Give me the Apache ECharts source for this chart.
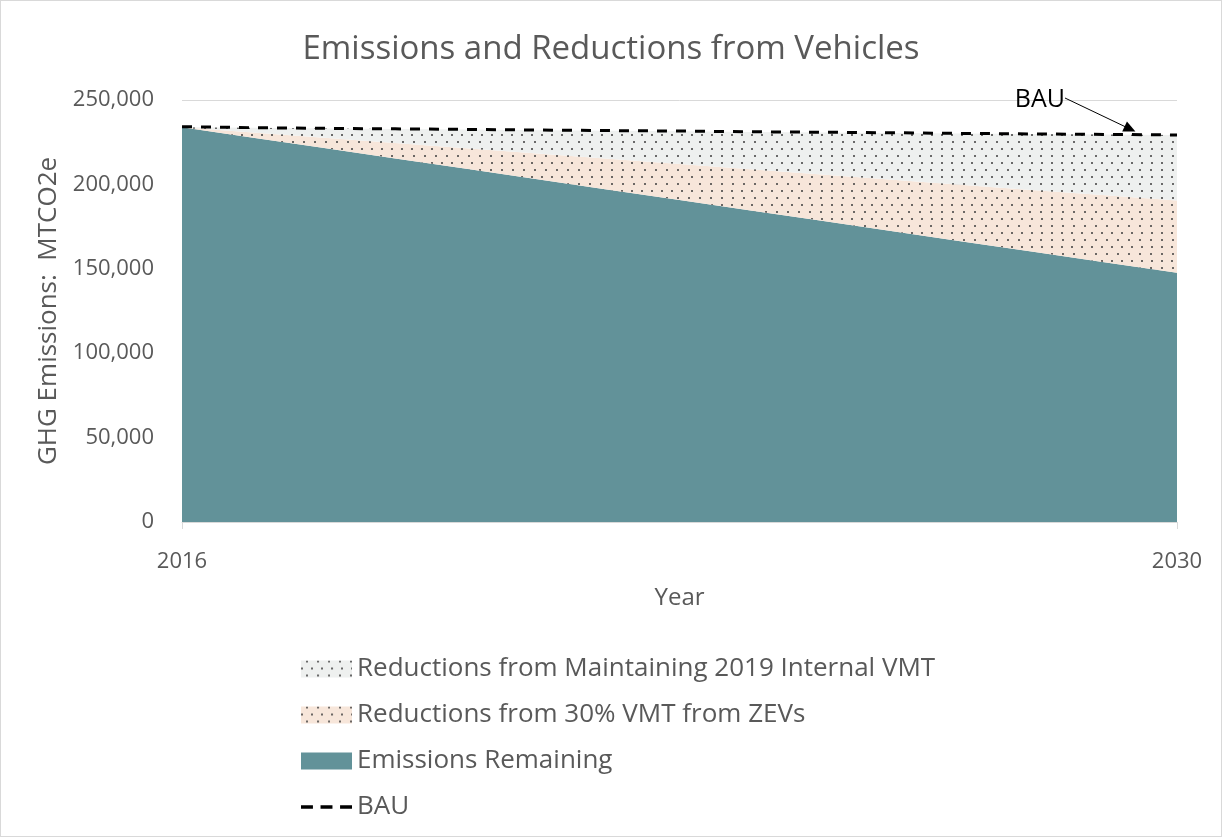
<!DOCTYPE html>
<html lang="en">
<head>
    <meta charset="UTF-8">
    <title>Emissions and Reductions from Vehicles</title>
    <script src="https://cdn.jsdelivr.net/npm/echarts@6/dist/echarts.min.js"></script>
    <style>
        html, body { margin: 0; padding: 0; background: #fff; }
        #main { width: 1220px; height: 835px; border: 1px solid #d9d9d9; }
    </style>
</head>
<body>
    <div id="main"></div>
    <script type="text/javascript">
        // values
        var years = ['2016', '2017', '2018', '2019', '2020', '2021', '2022', '2023', '2024', '2025', '2026', '2027', '2028', '2029', '2030'];
        var remaining = [233800, 227600, 221500, 215300, 209200, 203000, 196800, 190700, 184500, 178400, 172200, 166000, 159900, 153700, 147600];
        var zevCut = [0, 3100, 6100, 9200, 12200, 15300, 18400, 21400, 24500, 27500, 30600, 33700, 36700, 39800, 42800];
        var vmtCut = [0, 2800, 5500, 8300, 11100, 13800, 16600, 19400, 22100, 24900, 27700, 30400, 33200, 36000, 38800];
        var bau = [234200, 233600, 233200, 232900, 232600, 232200, 231900, 231600, 231200, 230900, 230600, 230200, 229900, 229600, 229300];
        var yTicks = [0, 50000, 100000, 150000, 200000, 250000];

        var txt = '#595959';
        var font = 'Open Sans';
        var lastIdx = years.length - 1;
        function endsOnly(i) { return i === 0 || i === lastIdx; }

        var dots = {
            symbol: 'rect',
            symbolSize: 1,
            color: 'rgba(60,60,60,0.75)',
            dashArrayX: [[1.2, 7.8], [0, 4.5, 1.2, 3.3]],
            dashArrayY: [1.2, 4.8]
        };

        var chart = echarts.init(document.getElementById('main'));
        var option = {
            backgroundColor: '#fff',
            animation: false,
            textStyle: { fontFamily: font },
            title: {
                text: 'Emissions and Reductions from Vehicles',
                left: 'center',
                top: 27,
                textStyle: { color: txt, fontSize: 33, fontWeight: 'normal', fontFamily: font }
            },
            legend: {
                orient: 'vertical',
                left: 295,
                top: 650,
                itemWidth: 51,
                itemHeight: 17,
                itemGap: 20,
                textStyle: { color: txt, fontSize: 26, fontFamily: font },
                data: [
                    { name: 'Reductions from Maintaining 2019 Internal VMT', icon: 'rect' },
                    { name: 'Reductions from 30% VMT from ZEVs', icon: 'rect' },
                    { name: 'Emissions Remaining', icon: 'rect' },
                    {
                        name: 'BAU',
                        icon: 'path://M0,0h11v3h-11z M18,0h11v3h-11z M36,0h11v3h-11z',
                        itemStyle: { color: '#000', borderWidth: 0 }
                    }
                ]
            },
            grid: { left: 181, right: 44, top: 99, bottom: 314 },
            xAxis: {
                type: 'category',
                boundaryGap: false,
                data: years,
                name: 'Year',
                nameLocation: 'middle',
                nameGap: 64,
                nameTextStyle: { color: txt, fontSize: 24 },
                axisLine: { lineStyle: { color: '#d9d9d9' } },
                axisTick: { show: true, length: 7, interval: endsOnly, lineStyle: { color: '#d9d9d9' } },
                axisLabel: { color: txt, fontSize: 22, margin: 29, interval: endsOnly },
                splitLine: { show: false }
            },
            yAxis: {
                type: 'value',
                min: yTicks[0],
                max: yTicks[yTicks.length - 1],
                interval: 50000,
                name: 'GHG Emissions:  MTCO2e',
                nameLocation: 'middle',
                nameGap: 110,
                nameTextStyle: { color: txt, fontSize: 26 },
                axisLine: { show: false },
                axisTick: { show: false },
                axisLabel: { color: txt, fontSize: 22, margin: 28, formatter: function (v) { return v.toLocaleString('en-US'); } },
                splitLine: { lineStyle: { color: '#d9d9d9' } }
            },
            series: [
                {
                    name: 'Emissions Remaining',
                    type: 'line',
                    stack: 'total',
                    symbol: 'none',
                    lineStyle: { width: 0 },
                    itemStyle: { color: '#629299' },
                    areaStyle: { color: '#629299', opacity: 1 },
                    data: remaining
                },
                {
                    name: 'Reductions from 30% VMT from ZEVs',
                    type: 'line',
                    stack: 'total',
                    symbol: 'none',
                    lineStyle: { width: 0 },
                    itemStyle: { color: '#f7e6da', decal: dots },
                    areaStyle: { color: '#f7e6da', opacity: 1 },
                    data: zevCut
                },
                {
                    name: 'Reductions from Maintaining 2019 Internal VMT',
                    type: 'line',
                    stack: 'total',
                    symbol: 'none',
                    lineStyle: { width: 0 },
                    itemStyle: { color: '#eef0ef', decal: dots },
                    areaStyle: { color: '#eef0ef', opacity: 1 },
                    data: vmtCut
                },
                {
                    name: 'BAU',
                    type: 'line',
                    symbol: 'none',
                    z: 5,
                    itemStyle: { color: '#000' },
                    lineStyle: { color: '#000', width: 3, type: [10, 9] },
                    data: bau,
                    markLine: {
                        silent: true,
                        symbol: ['none', 'triangle'],
                        symbolSize: [11, 12],
                        lineStyle: { color: '#000', width: 1, type: 'solid' },
                        label: { show: false },
                        data: [[{ x: 1064, y: 97 }, { x: 1129, y: 128 }]]
                    },
                    markPoint: {
                        symbol: 'circle',
                        symbolSize: 0,
                        label: { show: true, formatter: 'BAU', color: '#000', fontSize: 25, fontFamily: font, position: 'left', distance: 0 },
                        data: [{ x: 1064, y: 99 }]
                    }
                }
            ]
        };
        chart.setOption(option);
    </script>
</body>
</html>
